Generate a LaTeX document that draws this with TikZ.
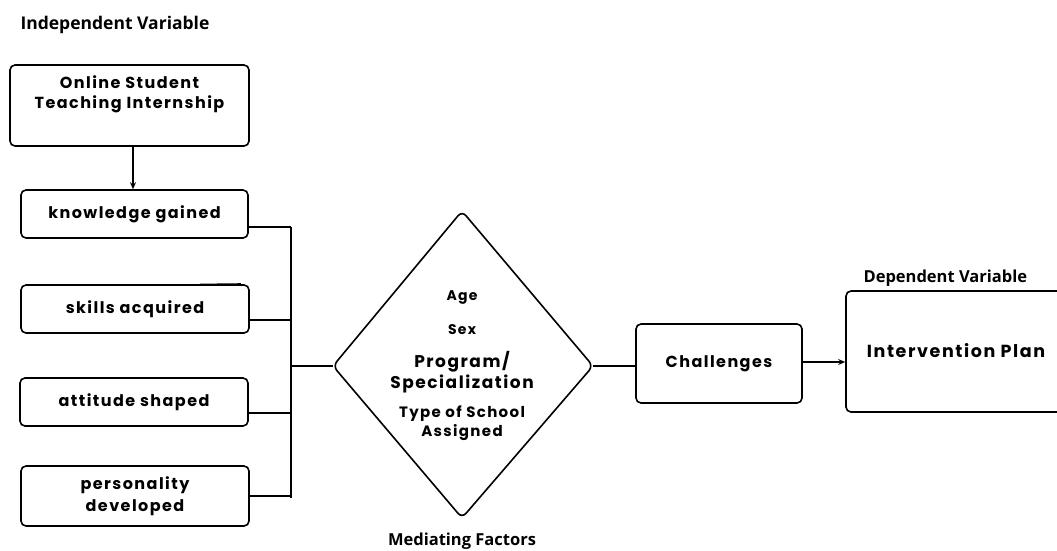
\documentclass[tikz,border=0pt]{standalone}
\usepackage{fontspec}
\setmainfont{Poppins}
\newfontfamily\lblfont{Poppins}[LetterSpace=9]
\newfontfamily\headfont{Open Sans}
\usetikzlibrary{arrows.meta}
\newcommand\lfs[2]{\lblfont\bfseries\fontsize{#1}{#2}\selectfont}
\tikzset{
  box/.style={draw, line width=1.6pt, rounded corners=5pt, inner sep=0pt},
  lbl/.style={font=\lfs{16}{21}, align=center},
  head/.style={font=\headfont\bfseries\fontsize{16.5}{19}\selectfont},
  con/.style={line width=2pt},
  arr/.style={line width=1.5pt, -{Stealth[length=7pt,width=6pt]}}
}
\begin{document}
\begin{tikzpicture}[x=1pt,y=-1pt]
\useasboundingbox (0,0) rectangle (1057,550);
% headers
\node[head, font=\headfont\bfseries\fontsize{17.5}{19}\selectfont, anchor=west] (hiv) at (17,25) {Independent Variable};
\node[head, anchor=west] (hdv) at (860,278) {Dependent Variable};
\node[head] (hmf) at (462,541) {Mediating Factors};
% top box
\node[box, minimum width=239, minimum height=81] (osti) at (129.5,105.5) {};
\node[lbl, font=\lfs{16}{20}] (ostit) at (129.5,94) {Online Student\\Teaching Internship};
% dimension boxes
\node[box, lbl, minimum width=227, minimum height=48] (kg) at (134.5,214) {knowledge gained};
\node[box, lbl, minimum width=228, minimum height=48] (sa) at (135,309) {skills acquired};
\node[box, lbl, minimum width=228, minimum height=48] (as) at (134,402) {attitude shaped};
\node[box, lbl, font=\lfs{16}{22}, minimum width=228, minimum height=60] (pd) at (135,496) {personality\\developed};
\coordinate (stray) at (200,284.5);
\draw[line width=1.6pt] (stray) -- (241,284);
% bracket
\coordinate (btop) at (291,227);
\coordinate (bbot) at (291,498);
\coordinate (bmid) at (291,366);
\draw[con] (btop) -- (bbot);
\draw[con] (kg.east |- btop) -- (btop);
\draw[con] (sa.east |- 0,320) -- (291,320);
\draw[con] (as.east |- 0,413) -- (291,413);
\draw[con] (pd.east |- 0,496) -- (291,496);
% diamond
\coordinate (dl) at (333,366);
\coordinate (dt) at (462,211);
\coordinate (dr) at (593,366);
\coordinate (db) at (462,518);
\draw[line width=1.6pt, rounded corners=6pt] (dl) -- (dt) -- (dr) -- (db) -- cycle;
\draw[con] (bmid) -- (dl);
\node[lbl, font=\lfs{14}{17}] (age) at (462,298) {Age};
\node[lbl, font=\lfs{14}{17}] (sex) at (462,330) {Sex};
\node[lbl, font=\lfs{17}{20.5}] (prog) at (462,372) {Program/\\Specialization};
\node[lbl, font=\lfs{15}{19}] (tos) at (462,423) {Type of School\\Assigned};
% challenges
\node[box, lbl, minimum width=166, minimum height=79] (ch) at (719,363.5) {Challenges};
\draw[con] (dr) -- (ch.west |- dr);
% intervention
\node[box, minimum width=230, minimum height=121] (ip) at (961,351.5) {};
\node[lbl, font=\lfs{17.5}{21}] (ipt) at (956,351) {Intervention Plan};
\draw[arr] (ch.east |- 0,362) -- (ip.west |- 0,362);
% top arrow
\draw[arr] (osti.south -| 133,0) -- (kg.north -| 133,0);
\end{tikzpicture}
\end{document}
